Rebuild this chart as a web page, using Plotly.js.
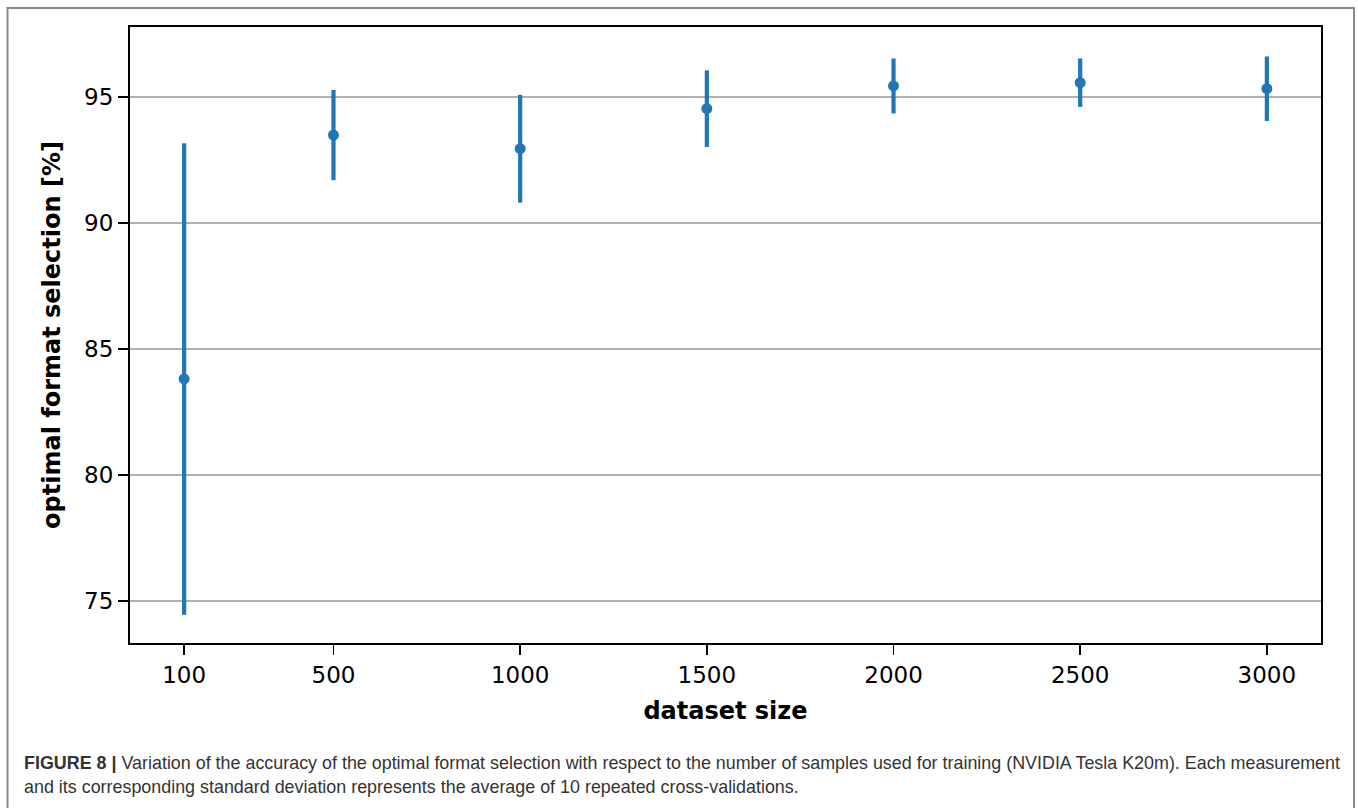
<!DOCTYPE html>
<html>
<head>
<meta charset="utf-8">
<script src="https://cdn.plot.ly/plotly-3.0.1.min.js"></script>
<style>html,body{margin:0;padding:0;background:#fff;}#chart{width:1358px;height:808px;}</style>
</head>
<body>
<div id="chart"></div>
<script>
const datasetSizes = [100, 500, 1000, 1500, 2000, 2500, 3000];
const meanAccuracy = [83.81, 93.49, 92.95, 94.54, 95.44, 95.57, 95.33];
const stdDeviation = [9.36, 1.79, 2.14, 1.52, 1.09, 0.96, 1.28];
const xTickVals = [100, 500, 1000, 1500, 2000, 2500, 3000];
const yTickVals = [75, 80, 85, 90, 95];
const captionLine1 = "<b>FIGURE 8 |</b> Variation of the accuracy of the optimal format selection with respect to the number of samples used for training (NVIDIA Tesla K20m). Each measurement";
const captionLine2 = "and its corresponding standard deviation represents the average of 10 repeated cross-validations.";

const W = 1358, H = 808, L = 130, R = 37, T = 27, B = 165;
const pw = W - L - R, ph = H - T - B;
const px = v => (v - L) / pw;
const py = v => (H - B - v) / ph;

const trace = {
  x: datasetSizes,
  y: meanAccuracy,
  type: 'scatter',
  mode: 'markers',
  marker: {color: '#1f77b4', size: 11},
  error_y: {type: 'data', array: stdDeviation, visible: true, color: '#1f77b4', thickness: 4.2, width: 0},
  hoverinfo: 'x+y'
};

const tickFont = {family: 'DejaVu Sans', size: 23, color: '#000'};
const layout = {
  width: W, height: H,
  margin: {l: L, r: R, t: T, b: B},
  paper_bgcolor: '#fff', plot_bgcolor: '#fff',
  showlegend: false,
  xaxis: {
    range: [-45, 3145], tickvals: xTickVals, ticktext: xTickVals.map(String),
    showgrid: false, zeroline: false, showline: true, linecolor: '#000', linewidth: 2, mirror: true,
    ticks: 'outside', ticklen: 10, tickwidth: 1.6, tickcolor: '#000', tickfont: tickFont,
    title: {text: '<b>dataset size</b>', font: {family: 'DejaVu Sans', size: 24, color: '#000'}, standoff: 16}
  },
  yaxis: {
    range: [73.33, 97.78], tickvals: yTickVals, ticktext: yTickVals.map(String),
    showgrid: true, gridcolor: '#b0b0b0', gridwidth: 1.6, zeroline: false,
    showline: true, linecolor: '#000', linewidth: 2, mirror: true,
    ticks: 'outside', ticklen: 10, tickwidth: 1.6, tickcolor: '#000', tickfont: tickFont,
    title: {text: '<b>optimal format selection [%]</b>', font: {family: 'DejaVu Sans', size: 24, color: '#000'}, standoff: 17}
  },
  shapes: [{
    type: 'rect', xref: 'paper', yref: 'paper',
    x0: px(7.5), x1: px(1354), y0: py(830), y1: py(8),
    line: {color: '#8a8a8a', width: 2}, fillcolor: 'rgba(0,0,0,0)', layer: 'below'
  }],
  annotations: [
    {text: captionLine1, xref: 'paper', yref: 'paper', x: px(22), y: py(763), xanchor: 'left', yanchor: 'middle', showarrow: false, align: 'left', font: {family: 'Liberation Sans', size: 17.9, color: '#333'}},
    {text: captionLine2, xref: 'paper', yref: 'paper', x: px(22), y: py(787), xanchor: 'left', yanchor: 'middle', showarrow: false, align: 'left', font: {family: 'Liberation Sans', size: 17.9, color: '#333'}}
  ]
};

Plotly.newPlot('chart', [trace], layout, {displayModeBar: false, staticPlot: true});
</script>
</body>
</html>
